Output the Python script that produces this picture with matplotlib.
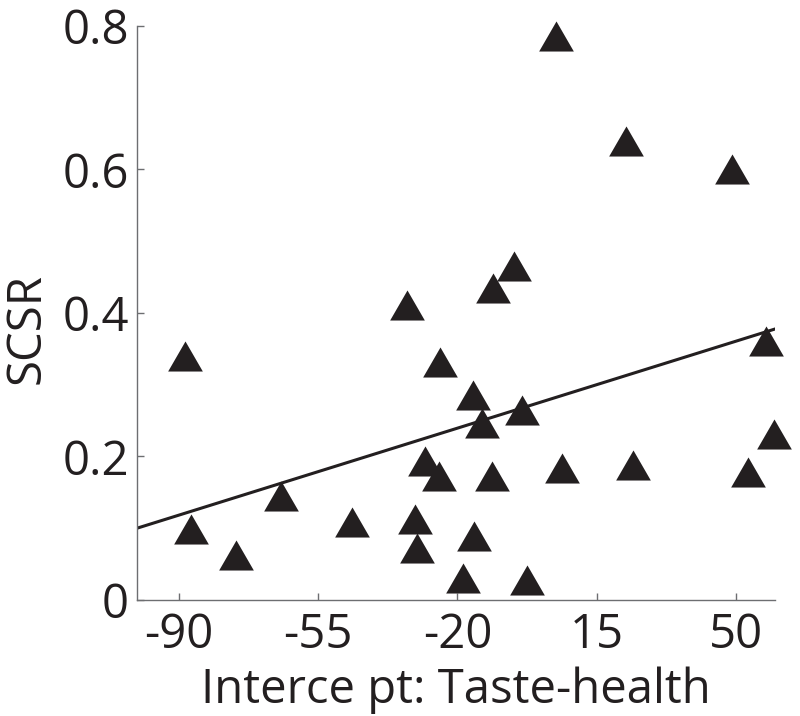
import matplotlib.pyplot as plt
import numpy as np

# values
intercept_pt = [-88.4, -87.1, -75.7, -64.3, -46.6, -32.8, -5.8, -11.0, -24.4, -16.2,
                -13.8, -3.9, -28.1, -24.6, -11.3, 6.4, -30.8, -30.2, -15.8, -18.7,
                -2.5, 4.8, 22.4, 48.9, 57.5, 59.5, 53.1, 24.2]
scsr = [0.340, 0.099, 0.062, 0.145, 0.108, 0.411, 0.465, 0.435, 0.332, 0.286,
        0.247, 0.264, 0.193, 0.173, 0.173, 0.184, 0.113, 0.072, 0.089, 0.030,
        0.028, 0.785, 0.639, 0.601, 0.361, 0.231, 0.178, 0.188]
x_ticks = [-90, -55, -20, 15, 50]
y_ticks = [0, 0.2, 0.4, 0.6, 0.8]
y_tick_labels = ['0', '0.2', '0.4', '0.6', '0.8']
x_range = [-100.5, 59.9]
# fitted line as drawn in the reference (slope, intercept)
fit_slope = 0.00173
fit_icpt = 0.274

ink = '#231f20'
spine_col = '#6d6e71'

plt.rcParams['font.family'] = ['Open Sans', 'DejaVu Sans']

fig = plt.figure(figsize=(8, 7.16), dpi=100)
ax = fig.add_axes([0.1716, 0.162, 0.7975, 0.8021])

tri = [(0, 0.866), (-1, -0.866), (1, -0.866)]
ax.plot(intercept_pt, scsr, linestyle='none', marker=tri, markersize=25,
        color=ink, markeredgewidth=0, clip_on=False, zorder=3)

xs = np.array(x_range)
ax.plot(xs, fit_slope * xs + fit_icpt, color=ink, lw=2.2, zorder=2)

ax.set_xlim(x_range)
ax.set_ylim(0, 0.8)
ax.set_xticks(x_ticks)
ax.set_xticklabels([str(v) for v in x_ticks])
ax.set_yticks(y_ticks)
ax.set_yticklabels(y_tick_labels)

for s in ['top', 'right']:
    ax.spines[s].set_visible(False)
for s in ['left', 'bottom']:
    ax.spines[s].set_color(spine_col)
    ax.spines[s].set_linewidth(1)

ax.tick_params(direction='in', length=5, width=1, color=spine_col,
               labelsize=34, labelcolor=ink)
ax.tick_params(axis='x', pad=8)
ax.tick_params(axis='y', pad=6)

ax.set_xlabel('Interce pt: Taste-health', fontsize=34, color=ink)
ax.set_ylabel('SCSR', fontsize=34, color=ink)
ax.xaxis.set_label_coords(0.499, -0.115)
ax.yaxis.set_label_coords(-0.136, 0.472)

fig.savefig('out.png', dpi=100)
